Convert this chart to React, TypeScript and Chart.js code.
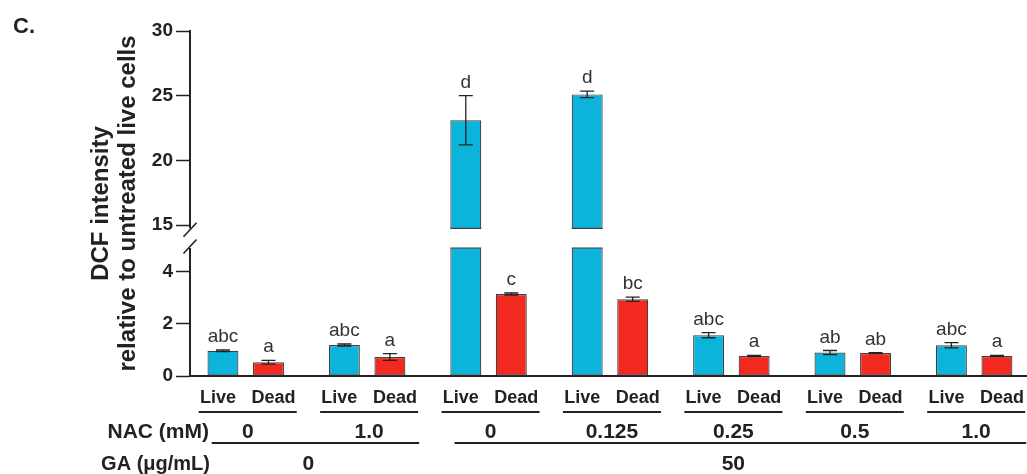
import React, { useEffect, useRef } from 'react';
import { Chart, registerables, LinearScale } from 'chart.js';

// ---- data ----
const NAC_LEVELS = ['0', '1.0', '0', '0.125', '0.25', '0.5', '1.0']; // NAC (mM) per group
const GA_LEVELS = ['0', '0', '50', '50', '50', '50', '50']; // GA (µg/mL) per group
const SERIES = ['Live', 'Dead'];
const LIVE_MEAN = [0.97, 1.19, 23.1, 25.1, 1.57, 0.9, 1.18];
const LIVE_SD = [0.03, 0.04, 1.9, 0.25, 0.1, 0.08, 0.1];
const DEAD_MEAN = [0.53, 0.73, 3.15, 2.95, 0.77, 0.88, 0.77];
const DEAD_SD = [0.07, 0.13, 0.04, 0.08, 0.02, 0.02, 0.02];
const LIVE_LETTERS = ['abc', 'abc', 'd', 'd', 'abc', 'ab', 'abc'];
const DEAD_LETTERS = ['a', 'a', 'c', 'bc', 'a', 'ab', 'a'];
const Y_TICKS = [0, 2, 4, 15, 20, 25, 30];
const Y_MIN = 0;
const Y_MAX = 30;
const BREAK_LOW = 4.92;
const BREAK_HIGH = 14.75;
const Y_TITLE = ['DCF intensity', 'relative to untreated live cells'];
const PANEL_LABEL = 'C.';
const NAC_LABEL = 'NAC (mM)';
const GA_LABEL = 'GA (\u03bcg/mL)';

// ---- layout / style ----
const LOW_FRAC = 128 / 345;
const GAP_FRAC = 19.7 / 345;
const FONT = '"Liberation Sans", Arial, Helvetica, sans-serif';
const INK = '#222222';
const LIVE_COLOR = '#0cb4db';
const DEAD_COLOR = '#f2291f';
const BAR_BORDER = '#404040';

class BrokenLinearScale extends LinearScale {
  static id = 'brokenLinear';
  static defaults = {};
  buildTicks() {
    return Y_TICKS.map((value) => ({ value }));
  }
  getPixelForValue(value: number) {
    const top = this.top;
    const bottom = this.bottom;
    const h = bottom - top;
    const yLow = bottom - h * LOW_FRAC;
    const yHigh = yLow - h * GAP_FRAC;
    if (value <= BREAK_LOW) {
      return bottom - ((value - Y_MIN) / (BREAK_LOW - Y_MIN)) * (bottom - yLow);
    }
    if (value >= BREAK_HIGH) {
      return yHigh - ((value - BREAK_HIGH) / (Y_MAX - BREAK_HIGH)) * (yHigh - top);
    }
    return yLow - ((value - BREAK_LOW) / (BREAK_HIGH - BREAK_LOW)) * (yLow - yHigh);
  }
  getValueForPixel(pixel: number) {
    const top = this.top;
    const bottom = this.bottom;
    const h = bottom - top;
    const yLow = bottom - h * LOW_FRAC;
    const yHigh = yLow - h * GAP_FRAC;
    if (pixel >= yLow) return Y_MIN + ((bottom - pixel) / (bottom - yLow)) * (BREAK_LOW - Y_MIN);
    if (pixel <= yHigh) return BREAK_HIGH + ((yHigh - pixel) / (yHigh - top)) * (Y_MAX - BREAK_HIGH);
    return BREAK_LOW + ((yLow - pixel) / (yLow - yHigh)) * (BREAK_HIGH - BREAK_LOW);
  }
}

Chart.register(...registerables, BrokenLinearScale);

const MEANS = [LIVE_MEAN, DEAD_MEAN];
const SDS = [LIVE_SD, DEAD_SD];
const LETTERS = [LIVE_LETTERS, DEAD_LETTERS];

const decorPlugin = {
  id: 'decor',
  afterDatasetsDraw(chart: any) {
    const { ctx, chartArea, scales } = chart;
    const ys = scales.y;
    const xs = scales.x;
    const yHi = ys.getPixelForValue(BREAK_HIGH);
    const yLo = ys.getPixelForValue(BREAK_LOW);
    ctx.save();

    // axis break gap
    ctx.fillStyle = '#ffffff';
    ctx.fillRect(chartArea.left - 2, yHi, chartArea.right - chartArea.left + 4, yLo - yHi);

    // edges of the cut bars
    ctx.strokeStyle = BAR_BORDER;
    ctx.lineWidth = 1.2;
    MEANS.forEach((means, di) => {
      const meta = chart.getDatasetMeta(di);
      meta.data.forEach((bar: any, i: number) => {
        if (means[i] > BREAK_LOW) {
          const l = bar.x - bar.width / 2;
          const r = bar.x + bar.width / 2;
          ctx.beginPath();
          ctx.moveTo(l, yHi);
          ctx.lineTo(r, yHi);
          ctx.moveTo(l, yLo);
          ctx.lineTo(r, yLo);
          ctx.stroke();
        }
      });
    });

    // break marks
    const ax = chartArea.left;
    ctx.strokeStyle = INK;
    ctx.lineWidth = 1.6;
    [yHi + 1.5, yLo - 1.5].forEach((cy) => {
      ctx.beginPath();
      ctx.moveTo(ax - 6.5, cy + 7);
      ctx.lineTo(ax + 6.5, cy - 7);
      ctx.stroke();
    });

    // error bars and letters
    MEANS.forEach((means, di) => {
      const meta = chart.getDatasetMeta(di);
      meta.data.forEach((bar: any, i: number) => {
        const cx = bar.x;
        const top = ys.getPixelForValue(means[i] + SDS[di][i]);
        const bot = ys.getPixelForValue(means[i] - SDS[di][i]);
        ctx.strokeStyle = INK;
        ctx.lineWidth = 1.3;
        ctx.beginPath();
        ctx.moveTo(cx, top);
        ctx.lineTo(cx, bot);
        ctx.moveTo(cx - 7, top);
        ctx.lineTo(cx + 7, top);
        ctx.moveTo(cx - 7, bot);
        ctx.lineTo(cx + 7, bot);
        ctx.stroke();
        ctx.fillStyle = '#333333';
        ctx.font = `19px ${FONT}`;
        ctx.textAlign = 'center';
        ctx.textBaseline = 'alphabetic';
        ctx.fillText(LETTERS[di][i], cx, top - 8);
      });
    });

    // category labels below the axis
    const liveMeta = chart.getDatasetMeta(0);
    const deadMeta = chart.getDatasetMeta(1);
    ctx.fillStyle = INK;
    ctx.strokeStyle = INK;
    ctx.lineWidth = 2;
    NAC_LEVELS.forEach((nac, i) => {
      const gc = xs.getPixelForValue(i);
      ctx.font = `bold 18px ${FONT}`;
      ctx.textAlign = 'center';
      ctx.fillText(SERIES[0], liveMeta.data[i].x - 5, 403);
      ctx.fillText(SERIES[1], deadMeta.data[i].x + 5, 403);
      ctx.beginPath();
      ctx.moveTo(gc - 47, 412);
      ctx.lineTo(gc + 51, 412);
      ctx.stroke();
      ctx.font = `bold 21px ${FONT}`;
      ctx.fillText(nac, gc + 2, 438);
    });

    // GA runs
    let start = 0;
    for (let i = 1; i <= GA_LEVELS.length; i++) {
      if (i === GA_LEVELS.length || GA_LEVELS[i] !== GA_LEVELS[start]) {
        const a = xs.getPixelForValue(start);
        const b = xs.getPixelForValue(i - 1);
        ctx.beginPath();
        ctx.moveTo(a - 34, 443);
        ctx.lineTo(b + 52, 443);
        ctx.stroke();
        ctx.font = `bold 21px ${FONT}`;
        ctx.textAlign = 'center';
        ctx.fillText(GA_LEVELS[start], (a + b) / 2 + 2, 470);
        start = i;
      }
    }

    ctx.textAlign = 'right';
    ctx.font = `bold 21px ${FONT}`;
    ctx.fillText(NAC_LABEL, 209, 438);
    ctx.font = `bold 20px ${FONT}`;
    ctx.fillText(GA_LABEL, 210, 470);

    ctx.textAlign = 'left';
    ctx.font = `bold 22px ${FONT}`;
    ctx.fillText(PANEL_LABEL, 13, 33);
    ctx.restore();
  },
};

export default function App() {
  const canvasRef = useRef<HTMLCanvasElement | null>(null);

  useEffect(() => {
    const canvas = canvasRef.current;
    if (!canvas) return;
    const chart = new Chart(canvas, {
      type: 'bar',
      data: {
        datasets: [
          {
            label: SERIES[0],
            data: LIVE_MEAN.map((v, i) => ({ x: i, y: v })),
            backgroundColor: LIVE_COLOR,
          },
          {
            label: SERIES[1],
            data: DEAD_MEAN.map((v, i) => ({ x: i, y: v })),
            backgroundColor: DEAD_COLOR,
          },
        ],
      },
      options: {
        responsive: false,
        animation: false,
        devicePixelRatio: 1,
        font: { family: FONT },
        color: INK,
        layout: { padding: { top: 31, left: 0, right: 0, bottom: 0 } },
        datasets: {
          bar: {
            borderColor: BAR_BORDER,
            borderWidth: 1.2,
            borderSkipped: false,
            barPercentage: 0.68,
            categoryPercentage: 0.75,
          },
        },
        plugins: {
          legend: { display: false },
          tooltip: { enabled: false },
          title: { display: false },
        },
        scales: {
          x: {
            type: 'linear',
            min: -0.459,
            max: 6.435,
            offset: false,
            ticks: { display: false, stepSize: 1, includeBounds: false },
            grid: { display: false },
            border: { display: true, color: INK, width: 2 },
            afterFit: (scale: any) => {
              scale.height = 98;
            },
          },
          y: {
            type: 'brokenLinear',
            min: Y_MIN,
            max: Y_MAX,
            ticks: {
              autoSkip: false,
              padding: 3,
              color: INK,
              font: { family: FONT, size: 19, weight: 'bold' },
              callback: (v: any) => String(v),
            },
            grid: {
              display: true,
              drawOnChartArea: false,
              drawTicks: true,
              tickLength: 14,
              tickWidth: 1.5,
              tickColor: INK,
            },
            border: { display: true, color: INK, width: 2 },
            title: {
              display: true,
              text: Y_TITLE,
              color: INK,
              font: { family: FONT, size: 24, weight: 'bold', lineHeight: 1.125 },
              padding: { top: 87.5, bottom: 0 },
            },
            afterFit: (scale: any) => {
              scale.width = 190;
            },
          },
        } as any,
      } as any,
      plugins: [decorPlugin],
    });
    return () => chart.destroy();
  }, []);

  return (
    <div
      style={{
        position: 'absolute',
        left: 0,
        top: 0,
        width: 1027,
        height: 474,
        overflow: 'hidden',
        background: '#ffffff',
      }}
    >
      <canvas ref={canvasRef} width={1027} height={474} style={{ display: 'block' }} />
    </div>
  );
}
